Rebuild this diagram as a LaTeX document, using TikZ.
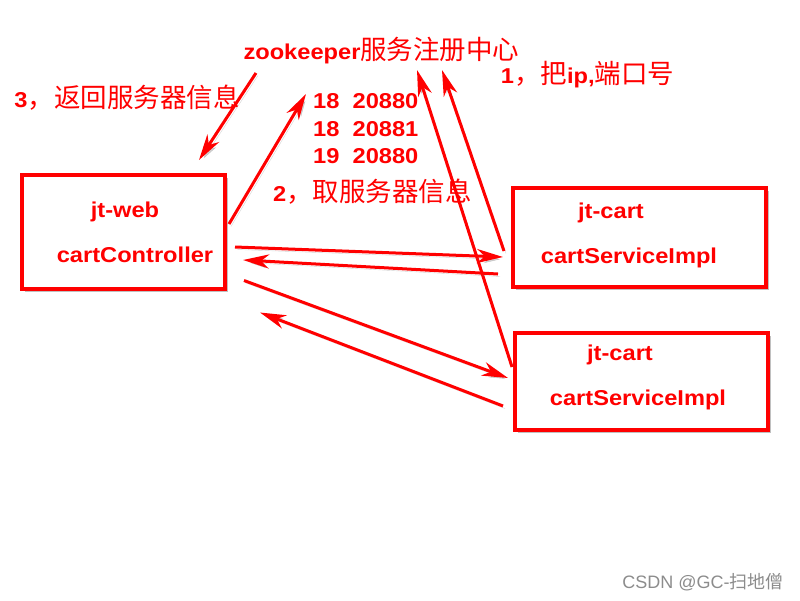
\documentclass[tikz,border=0pt]{standalone}
\usepackage{fontspec}
\setmainfont{Liberation Sans}
\newfontfamily\latb{Liberation Sans}[FakeStretch=1.1]
\newfontfamily\cjk{Noto Sans CJK SC}
\usetikzlibrary{arrows.meta,shadows}
\newcommand\zh[1]{{\fontsize{26.5}{28}\selectfont\cjk\mdseries #1}}
\newcommand\wzh[1]{{\cjk #1}}
\tikzset{
  lbl/.style={text=red, inner sep=0pt, font=\fontsize{21.5}{24}\selectfont\latb\bfseries},
  box/.style={draw=red, line width=4.5pt, fill=white, inner sep=0pt,
    drop shadow={shadow xshift=3pt, shadow yshift=-3pt, opacity=.45, fill=black!55}},
  arr/.style={draw=red, line width=3pt, -{Stealth[length=26pt,width=14pt,inset=8pt]},
    preaction={draw=black!50, opacity=.35, transform canvas={shift={(2pt,-2.5pt)}}}},
  wm/.style={text=black!45, inner sep=0pt, font=\fontsize{18}{20}\selectfont}
}
\begin{document}
\begin{tikzpicture}[x=1pt,y=-1pt]
\useasboundingbox (0,0) rectangle (800,600);
% boxes
\node[box, minimum width=203pt, minimum height=114pt] (web) at (123.5,232) {};
\node[box, minimum width=253pt, minimum height=99pt] (cart1) at (639.5,237.5) {};
\node[box, minimum width=253pt, minimum height=97pt] (cart2) at (641.5,381.5) {};
% arrow endpoints
\coordinate (a3s) at (256,73);   \coordinate (a3e) at (199,160);
\coordinate (a2s) at (229,224);  \coordinate (a2e) at (306,94);
\coordinate (a1as) at (504,251); \coordinate (a1ae) at (442,70);
\coordinate (a1bs) at (512,367); \coordinate (a1be) at (417,70);
\coordinate (h1s) at (235,247);  \coordinate (h1e) at (503,257);
\coordinate (h2s) at (498,274);  \coordinate (h2e) at (243,260);
\coordinate (h3s) at (244,280.5);\coordinate (h3e) at (508,378);
\coordinate (h4s) at (503,406);  \coordinate (h4e) at (260,312.5);
\draw[arr] (a3s) -- (a3e);
\draw[arr] (a2s) -- (a2e);
\draw[arr] (a1as) -- (a1ae);
\draw[arr] (a1bs) -- (a1be);
\draw[arr] (h1s) -- (h1e);
\draw[arr] (h2s) -- (h2e);
\draw[arr] (h3s) -- (h3e);
\draw[arr] (h4s) -- (h4e);
% texts
\node[lbl] (title) at (381.5,51) {zookeeper\zh{服务注册中心}};
\node[lbl] (t3) at (127,98) {3\zh{，返回服务器信息}};
\node[lbl] (t1) at (587.5,75) {1\zh{，把}ip,\zh{端口号}};
\node[lbl] (t2) at (372.5,192) {2\zh{，取服务器信息}};
\node[lbl, anchor=west] (n1) at (313,101) {18\ \ 20880};
\node[lbl, anchor=west] (n2) at (313,129) {18\ \ 20881};
\node[lbl, anchor=west] (n3) at (313,156) {19\ \ 20880};
\node[lbl] (webA) at (125,212) {jt-web};
\node[lbl] (webB) at (135,255) {cartController};
\node[lbl] (c1A) at (611,213) {jt-cart};
\node[lbl] (c1B) at (629,258) {cartServiceImpl};
\node[lbl] (c2A) at (620,355) {jt-cart};
\node[lbl] (c2B) at (638,400) {cartServiceImpl};
\node[wm] (wmk) at (703,582) {CSDN @GC-\wzh{扫地僧}};
\end{tikzpicture}
\end{document}
